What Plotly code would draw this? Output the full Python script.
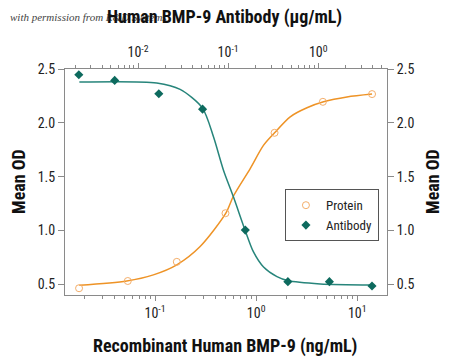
import plotly.graph_objects as go

# ---- data ----
protein_conc = [0.0177, 0.0537, 0.164, 0.497, 1.52, 4.57, 14.0]          # ng/mL (bottom axis)
protein_od = [0.463, 0.53, 0.708, 1.16, 1.907, 2.195, 2.267]
antibody_conc = [0.0022, 0.0055, 0.017, 0.052, 0.155, 0.46, 1.33, 3.95]  # ug/mL (top axis)
antibody_od = [2.447, 2.394, 2.27, 2.127, 1.003, 0.524, 0.524, 0.484]

# fitted curves
protein_fit_x = [0.0178, 0.0525, 0.0962, 0.164, 0.279, 0.501, 0.596, 0.873, 1.18, 1.52,
                 2.17, 3.18, 4.64, 7.9, 14.0]
protein_fit_y = [0.49, 0.53, 0.587, 0.68, 0.85, 1.16, 1.32, 1.575, 1.79, 1.907,
                 2.056, 2.14, 2.195, 2.24, 2.267]
antibody_fit_x = [0.00223, 0.0161, 0.0293, 0.0518, 0.0687, 0.0887, 0.1146, 0.1545,
                  0.191, 0.247, 0.348, 0.456, 1.05, 3.95]
antibody_fit_y = [2.379, 2.37, 2.31, 2.137, 1.87, 1.56, 1.31, 1.0,
                  0.80, 0.66, 0.57, 0.534, 0.503, 0.494]

y_ticks = [0.5, 1.0, 1.5, 2.0, 2.5]
y_labels = ["0.5", "1.0", "1.5", "2.0", "2.5"]
bottom_ticks = [0.1, 1, 10]
bottom_labels = ["10<sup>-1</sup>", "10<sup>0</sup>", "10<sup>1</sup>"]
top_ticks = [0.01, 0.1, 1]
top_labels = ["10<sup>-2</sup>", "10<sup>-1</sup>", "10<sup>0</sup>"]

FONT = "Liberation Sans Narrow, Roboto Condensed, Arial Narrow, Liberation Sans, sans-serif"
ORANGE = "#EE9326"
ORANGE_MK = "#F4AE6A"
TEAL = "#27857B"
TEAL_MK = "#0D6A5E"
AXIS = "#8a8a8a"

minor_vals = [m * 10 ** e for e in range(-4, 3) for m in range(2, 10)]

fig = go.Figure()
fig.add_trace(go.Scatter(x=protein_fit_x, y=protein_fit_y, mode="lines",
                         line=dict(color=ORANGE, width=1.5, shape="spline", smoothing=0.8),
                         showlegend=False, hoverinfo="skip"))
fig.add_trace(go.Scatter(x=antibody_fit_x, y=antibody_fit_y, mode="lines", xaxis="x2",
                         line=dict(color=TEAL, width=1.5, shape="spline", smoothing=0.8),
                         showlegend=False, hoverinfo="skip"))
fig.add_trace(go.Scatter(x=protein_conc, y=protein_od, mode="markers", name="Protein",
                         marker=dict(symbol="circle-open", size=7, color=ORANGE_MK,
                                     line=dict(width=1))))
fig.add_trace(go.Scatter(x=antibody_conc, y=antibody_od, mode="markers", name="Antibody",
                         xaxis="x2",
                         marker=dict(symbol="diamond", size=7, color=TEAL_MK)))
# invisible trace to activate right y axis
fig.add_trace(go.Scatter(x=[protein_conc[0]], y=[protein_od[0]], yaxis="y2", mode="markers",
                         marker=dict(opacity=0), showlegend=False, hoverinfo="skip"))

tickfont = dict(family=FONT, size=14, color="#222")
common = dict(showgrid=False, zeroline=False, tickfont=tickfont, automargin=False,
              showline=True, linecolor=AXIS, linewidth=1, tickcolor=AXIS, ticks="outside")
fig.update_layout(
    width=450, height=361,
    margin=dict(l=65, r=63, t=69, b=66),
    paper_bgcolor="white", plot_bgcolor="white",
    font=dict(family=FONT, color="#222"),
    xaxis=dict(type="log", range=[-1.891, 1.294], tickvals=bottom_ticks, ticktext=bottom_labels,
               ticklen=5,
               minor=dict(tickvals=minor_vals, ticks="outside", ticklen=3, tickcolor=AXIS,
                          showgrid=False), **common),
    xaxis2=dict(type="log", range=[-2.811, 0.763], overlaying="x", side="top", anchor="y",
                tickvals=top_ticks, ticktext=top_labels, ticklen=5,
                minor=dict(tickvals=minor_vals, ticks="outside", ticklen=3, tickcolor=AXIS,
                           showgrid=False), **common),
    yaxis=dict(range=[0.4, 2.5], tickvals=y_ticks, ticktext=y_labels, ticklen=6, **common),
    yaxis2=dict(range=[0.4, 2.5], overlaying="y", side="right", anchor="x",
                tickvals=y_ticks, ticktext=y_labels, ticklen=6, **common),
    legend=dict(x=0.683, y=0.468, xanchor="left", yanchor="top",
                bordercolor="#555", borderwidth=1, bgcolor="white",
                font=dict(family=FONT, size=13, color="#222"),
                itemwidth=30, tracegroupgap=0),
    showlegend=True,
)

title_font = dict(family=FONT, size=18, color="#111")
fig.add_annotation(text="with permission from R&D Systems", xref="paper", yref="paper",
                   x=(8 - 65) / 322, y=(295 - 17) / 226, xanchor="left", yanchor="middle",
                   showarrow=False,
                   font=dict(family="Liberation Serif, DejaVu Serif, serif", size=11,
                             color="#444", style="italic"))
fig.add_annotation(text="<b>Human BMP-9 Antibody (\u00b5g/mL)</b>", xref="paper", yref="paper",
                   x=(224 - 65) / 322, y=(295 - 17) / 226, xanchor="center", yanchor="middle",
                   showarrow=False, font=title_font)
fig.add_annotation(text="<b>Recombinant Human BMP-9 (ng/mL)</b>", xref="paper", yref="paper",
                   x=(225 - 65) / 322, y=(295 - 346) / 226, xanchor="center", yanchor="middle",
                   showarrow=False, font=title_font)
fig.add_annotation(text="<b>Mean OD</b>", xref="paper", yref="paper", textangle=-90,
                   x=(18 - 65) / 322, y=0.5, xanchor="center", yanchor="middle",
                   showarrow=False, font=title_font)
fig.add_annotation(text="<b>Mean OD</b>", xref="paper", yref="paper", textangle=-90,
                   x=(432 - 65) / 322, y=0.5, xanchor="center", yanchor="middle",
                   showarrow=False, font=title_font)

fig.write_html("out.html", config={"displayModeBar": False},
               post_script="document.body.style.margin='0';")
